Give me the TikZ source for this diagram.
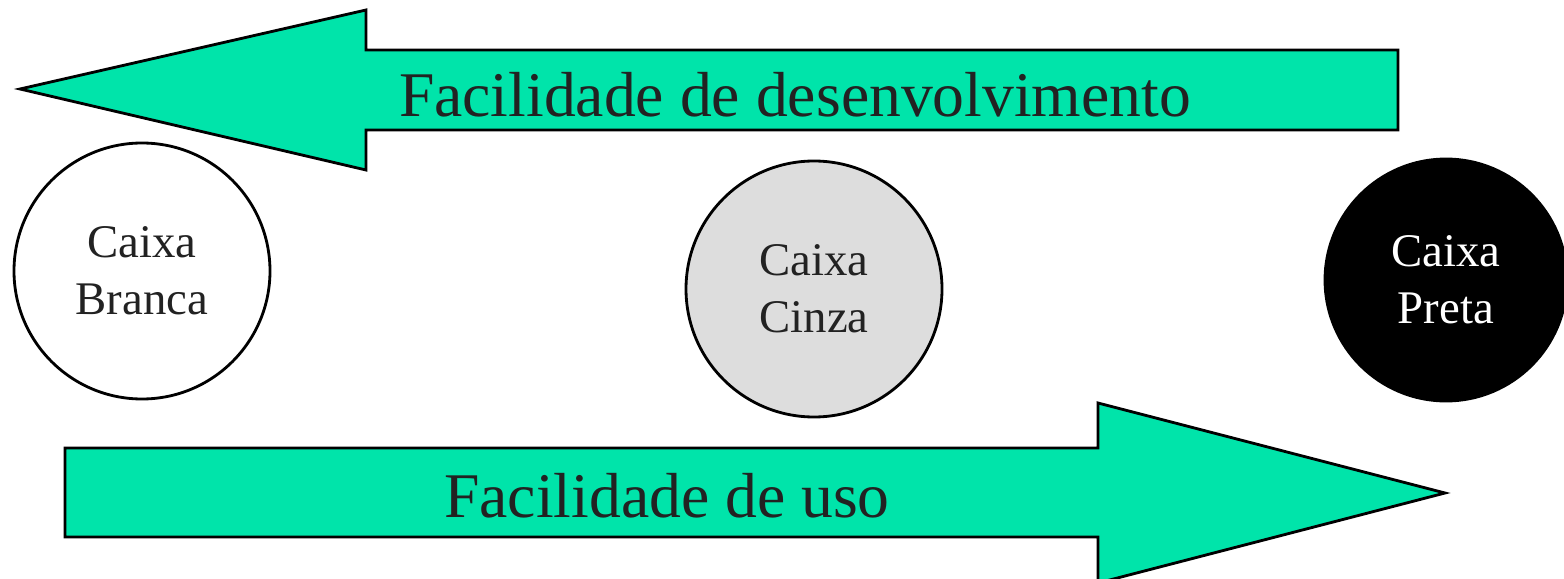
\documentclass[tikz,border=0pt]{standalone}
\usepackage{fontspec}
\setmainfont{Liberation Serif}
\definecolor{arrowgreen}{RGB}{0,228,170}
\definecolor{circgray}{RGB}{221,221,221}
\definecolor{textdark}{RGB}{34,34,34}
\begin{document}
\begin{tikzpicture}[x=0.01cm,y=-0.01cm,
  bigarrow/.style={draw=black,fill=arrowgreen,line width=0.8pt,line join=miter},
  bigtext/.style={font=\fontsize{18.1}{21}\selectfont,text=textdark,anchor=base,inner sep=0pt},
  circ/.style={circle,draw=black,line width=0.8pt,inner sep=0pt,minimum size=256*0.01cm,
    align=center,font=\fontsize{13.3}{16.2}\selectfont}]
\useasboundingbox (0,0) rectangle (1564,579);
% top arrow (pointing left)
\draw[bigarrow] (20,89) -- (366,10) -- (366,50) -- (1398,50) -- (1398,130) -- (366,130) -- (366,170) -- cycle;
\node[bigtext] (dev) at (795,117) {Facilidade de desenvolvimento};
% bottom arrow (pointing right)
\draw[bigarrow] (65,448) -- (1098,448) -- (1098,403) -- (1445,493) -- (1098,583) -- (1098,537) -- (65,537) -- cycle;
\node[bigtext] (uso) at (667,517) {Facilidade de uso};
% circles
\node[circ,fill=white,text=textdark] (branca) at (142,271) {Caixa\\Branca};
\node[circ,fill=circgray,text=textdark] (cinza) at (814,289) {Caixa\\Cinza};
\node[circ,fill=black,text=white,minimum size=242*0.01cm] (preta) at (1446,280) {Caixa\\Preta};
\end{tikzpicture}
\end{document}
